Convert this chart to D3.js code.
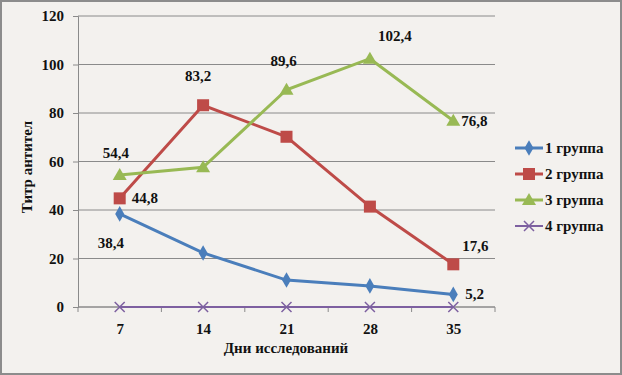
<!DOCTYPE html>
<html>
<head>
<meta charset="utf-8">
<script src="https://cdn.jsdelivr.net/npm/d3@7"></script>
<style>
  body { margin: 0; background: #fff; }
  svg { display: block; }
</style>
</head>
<body>
<div id="chart"></div>
<script>
const days = ['7', '14', '21', '28', '35'];
const seriesNames = ['1 группа', '2 группа', '3 группа', '4 группа'];
const group1 = [38.4, 22.3, 11.1, 8.7, 5.2];
const group2 = [44.8, 83.2, 70.2, 41.4, 17.6];
const group3 = [54.4, 57.6, 89.6, 102.4, 76.8];
const group4 = [0, 0, 0, 0, 0];
const yTicks = [0, 20, 40, 60, 80, 100, 120];
// which points carry a value label, and where it sits
const labels = [
  { s: 0, i: 0, dx: -22, dy: 34 },
  { s: 0, i: 4, dx: 12, dy: 5 },
  { s: 1, i: 0, dx: 12, dy: 5 },
  { s: 1, i: 1, dx: -18, dy: -24 },
  { s: 1, i: 4, dx: 9, dy: -13 },
  { s: 2, i: 0, dx: -17, dy: -17 },
  { s: 2, i: 2, dx: -16, dy: -24 },
  { s: 2, i: 3, dx: 8, dy: -18 },
  { s: 2, i: 4, dx: 8, dy: 5 }
];

const colors = ['#4a7ebb', '#be4b48', '#98b954', '#7d60a0'];
const allSeries = [group1, group2, group3, group4];
const serif = '"Liberation Serif", "Times New Roman", serif';

const width = 622;
const height = 375;
const plotLeft = 78, plotRight = 495, plotTop = 16, plotBottom = 307;

const svg = d3.select('#chart')
              .append('svg')
              .attr('width', width)
              .attr('height', height);

const styleText = sel => sel.style('font-family', serif)
                            .style('font-weight', 'bold')
                            .style('font-size', '15px')
                            .attr('fill', '#111');

svg.append('rect')
   .attr('x', 1).attr('y', 1)
   .attr('width', width - 2).attr('height', height - 2)
   .attr('fill', '#f3f1ee')
   .attr('stroke', '#8c8c8c')
   .attr('stroke-width', 2);

const xScale = d3.scalePoint().domain(days).range([plotLeft, plotRight]).padding(0.5);
const xBand = d3.scaleBand().domain(days).range([plotLeft, plotRight]);
const yScale = d3.scaleLinear().domain([0, 120]).range([plotBottom, plotTop]);

// gridlines
svg.append('g')
   .selectAll('line')
   .data(yTicks)
   .enter()
   .append('line')
   .attr('x1', plotLeft).attr('x2', plotRight)
   .attr('y1', d => yScale(d)).attr('y2', d => yScale(d))
   .attr('stroke', '#8a8a8a')
   .attr('stroke-width', 1);

const yAxis = d3.axisLeft(yScale).tickValues(yTicks).tickSize(5).tickPadding(9);
const gy = svg.append('g')
   .attr('transform', 'translate(' + plotLeft + ',0)')
   .call(yAxis);
gy.select('.domain').attr('stroke', '#8a8a8a');
gy.selectAll('.tick line').attr('stroke', '#8a8a8a');
gy.selectAll('text').call(styleText);

const xAxis = d3.axisBottom(xScale).tickSize(0).tickPadding(16);
const gx = svg.append('g')
   .attr('transform', 'translate(0,' + plotBottom + ')')
   .call(xAxis);
gx.select('.domain').remove();
gx.selectAll('text').call(styleText);
svg.append('line')
   .attr('x1', plotLeft).attr('x2', plotRight)
   .attr('y1', plotBottom).attr('y2', plotBottom)
   .attr('stroke', '#8a8a8a');
svg.append('g')
   .selectAll('line')
   .data(days.concat(['end']))
   .enter()
   .append('line')
   .attr('x1', d => d === 'end' ? plotRight : xBand(d))
   .attr('x2', d => d === 'end' ? plotRight : xBand(d))
   .attr('y1', plotBottom).attr('y2', plotBottom + 5)
   .attr('stroke', '#8a8a8a');

// lines
const line = d3.line()
               .x((d, i) => xScale(days[i]))
               .y(d => yScale(d));

allSeries.forEach((vals, s) => {
  svg.append('path')
     .datum(vals)
     .attr('d', line)
     .attr('fill', 'none')
     .attr('stroke', colors[s])
     .attr('stroke-width', s === 3 ? 2 : 3);
});

const drawMarker = (g, s, x, y) => {
  if (s === 0) {
    g.append('path').attr('d', d3.symbol(d3.symbolDiamond, 70)())
     .attr('transform', 'translate(' + x + ',' + y + ')')
     .attr('fill', colors[0]);
  } else if (s === 1) {
    g.append('rect').attr('x', x - 6).attr('y', y - 6).attr('width', 12).attr('height', 12)
     .attr('fill', colors[1]);
  } else if (s === 2) {
    g.append('path').attr('d', 'M' + (x - 7) + ',' + (y + 5) + 'L' + x + ',' + (y - 7) + 'L' + (x + 7) + ',' + (y + 5) + 'Z')
     .attr('fill', colors[2]);
  } else {
    g.append('path').attr('d', 'M' + (x - 5) + ',' + (y - 5) + 'L' + (x + 5) + ',' + (y + 5) + 'M' + (x - 5) + ',' + (y + 5) + 'L' + (x + 5) + ',' + (y - 5))
     .attr('stroke', colors[3]).attr('stroke-width', 1.5);
  }
};

allSeries.forEach((vals, s) => {
  const g = svg.append('g');
  vals.forEach((v, i) => drawMarker(g, s, xScale(days[i]), yScale(v)));
});

// data labels
svg.append('g')
   .selectAll('text')
   .data(labels)
   .enter()
   .append('text')
   .attr('x', d => xScale(days[d.i]) + d.dx)
   .attr('y', d => yScale(allSeries[d.s][d.i]) + d.dy)
   .call(styleText)
   .text(d => String(allSeries[d.s][d.i]).replace('.', ','));

// axis titles
svg.append('text')
   .attr('transform', 'translate(32,167) rotate(-90)')
   .attr('text-anchor', 'middle')
   .call(styleText)
   .text('Титр антител');

svg.append('text')
   .attr('x', 286)
   .attr('y', 353)
   .attr('text-anchor', 'middle')
   .call(styleText)
   .text('Дни исследований');

// legend
const legend = svg.append('g');
seriesNames.forEach((name, s) => {
  const y = 148 + s * 26;
  legend.append('line')
        .attr('x1', 515).attr('x2', 543)
        .attr('y1', y).attr('y2', y)
        .attr('stroke', colors[s])
        .attr('stroke-width', s === 3 ? 2 : 3);
  drawMarker(legend, s, 529, y);
  legend.append('text')
        .attr('x', 545).attr('y', y + 5)
        .call(styleText)
        .text(name);
});
</script>
</body>
</html>
